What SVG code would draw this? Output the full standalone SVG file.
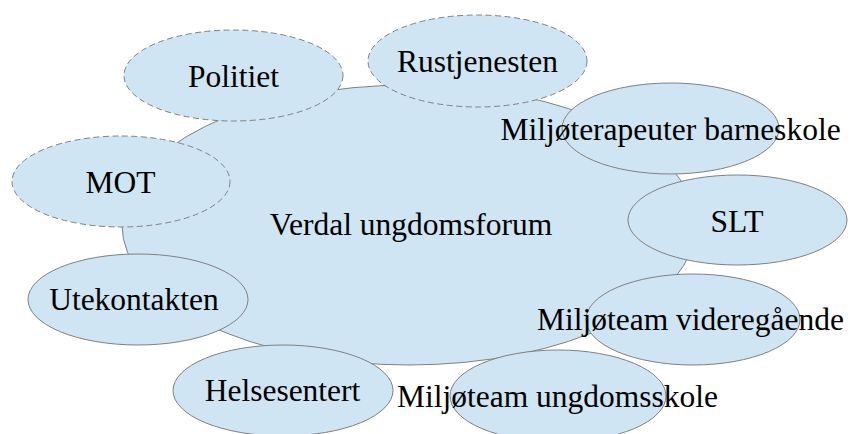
<svg xmlns="http://www.w3.org/2000/svg" width="850" height="434" viewBox="0 0 850 434">
<style>
.n{fill:#cfe5f3;stroke:#808080;stroke-width:1}
.d{stroke-dasharray:6,3.5}
text{font-family:"Liberation Serif","Times New Roman",serif;font-size:31.5px;fill:#000;text-anchor:middle}
</style>
<g id="connectors"></g>
<g id="center"><ellipse class="n" cx="409" cy="225" rx="287" ry="140"/><text x="411" y="235">Verdal ungdomsforum</text></g>
<g id="politiet"><ellipse class="n d" cx="233.5" cy="75.5" rx="109.5" ry="45.5"/><text x="233.5" y="87">Politiet</text></g>
<g id="rustjenesten"><ellipse class="n d" cx="477.5" cy="61" rx="109.5" ry="46"/><text x="477.5" y="72">Rustjenesten</text></g>
<g id="barneskole"><ellipse class="n" cx="670.5" cy="128.5" rx="108.5" ry="45.5"/><text x="670.5" y="140">Miljøterapeuter barneskole</text></g>
<g id="slt"><ellipse class="n" cx="737.5" cy="220" rx="109.5" ry="45"/><text x="737" y="232">SLT</text></g>
<g id="videregaende"><ellipse class="n" cx="693" cy="319.5" rx="107" ry="45.5"/><text x="690.5" y="330">Miljøteam videregående</text></g>
<g id="ungdomsskole"><ellipse class="n" cx="558" cy="396" rx="108" ry="46"/><text x="557.5" y="407">Miljøteam ungdomsskole</text></g>
<g id="helsesentert"><ellipse class="n" cx="283" cy="390.5" rx="110" ry="45.5"/><text x="282.5" y="401">Helsesentert</text></g>
<g id="utekontakten"><ellipse class="n" cx="138" cy="299.5" rx="110" ry="45.5"/><text x="134" y="310">Utekontakten</text></g>
<g id="mot"><ellipse class="n d" cx="121" cy="181.5" rx="109" ry="45.5"/><text x="120.5" y="193">MOT</text></g>
</svg>
